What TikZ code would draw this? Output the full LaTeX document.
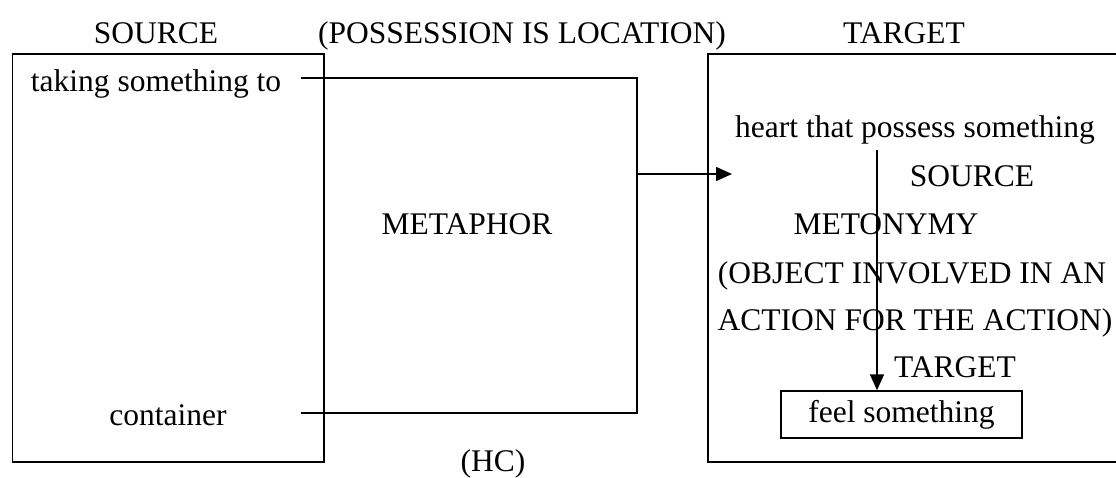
\documentclass[tikz,border=0pt]{standalone}
\usepackage{fontspec}
\setmainfont{Liberation Serif}
\usetikzlibrary{arrows.meta}
\begin{document}
\begin{tikzpicture}[x=1pt,y=-1pt,
  every node/.style={inner sep=0pt,font=\fontsize{31.5}{36}\selectfont},
  lbl/.style={anchor=base},
  frame/.style={draw,line width=1.6pt},
  link/.style={line width=1.5pt},
  arr/.style={link,-{Triangle[length=16pt,width=14pt]}}]
  \clip (0,0) rectangle (1116,477);

  % headings
  \node[lbl] (hsrc) at (156,43) {SOURCE};
  \node[lbl] (hmap) at (522,43) {(POSSESSION IS LOCATION)};
  \node[lbl] (htgt) at (904,43) {TARGET};

  % source and target domains (target runs off the right edge)
  \draw[frame] (12.5,54) rectangle (324,462);
  \draw[frame] (708,54) rectangle (1130,462);

  % source domain
  \node[lbl] (take) at (156,91) {taking something to};
  \node[lbl] (cont) at (168,425) {container};
  \node[lbl] (meta) at (467,234) {METAPHOR};
  \node[lbl] (hc) at (493,471) {(HC)};

  % target domain
  \node[lbl] (heart) at (915,137) {heart that possess something};
  \node[lbl] (msrc) at (972,186) {SOURCE};
  \node[lbl] (meto) at (886,234) {METONYMY};
  \node[lbl] (obj1) at (912,283) {(OBJECT INVOLVED IN AN};
  \node[lbl] (obj2) at (915,330) {ACTION FOR THE ACTION)};
  \node[lbl] (mtgt) at (955,377) {TARGET};
  \node[draw,line width=1.4pt,minimum width=241pt,minimum height=47pt] (feel) at (901.5,414.5) {feel something};

  % metaphor mapping bracket
  \coordinate (ta) at (301,78);
  \coordinate (tb) at (637,78);
  \coordinate (cb) at (637,413);
  \coordinate (ca) at (301,413);
  \coordinate (out) at (637,174);
  \coordinate (into) at (732,174);
  \draw[link] (ta) -- (tb) -- (cb) -- (ca);
  \draw[arr] (out) -- (into);

  % metonymy mapping
  \coordinate (mtop) at (877,150);
  \draw[arr] (mtop) -- (mtop |- feel.north);
\end{tikzpicture}
\end{document}
